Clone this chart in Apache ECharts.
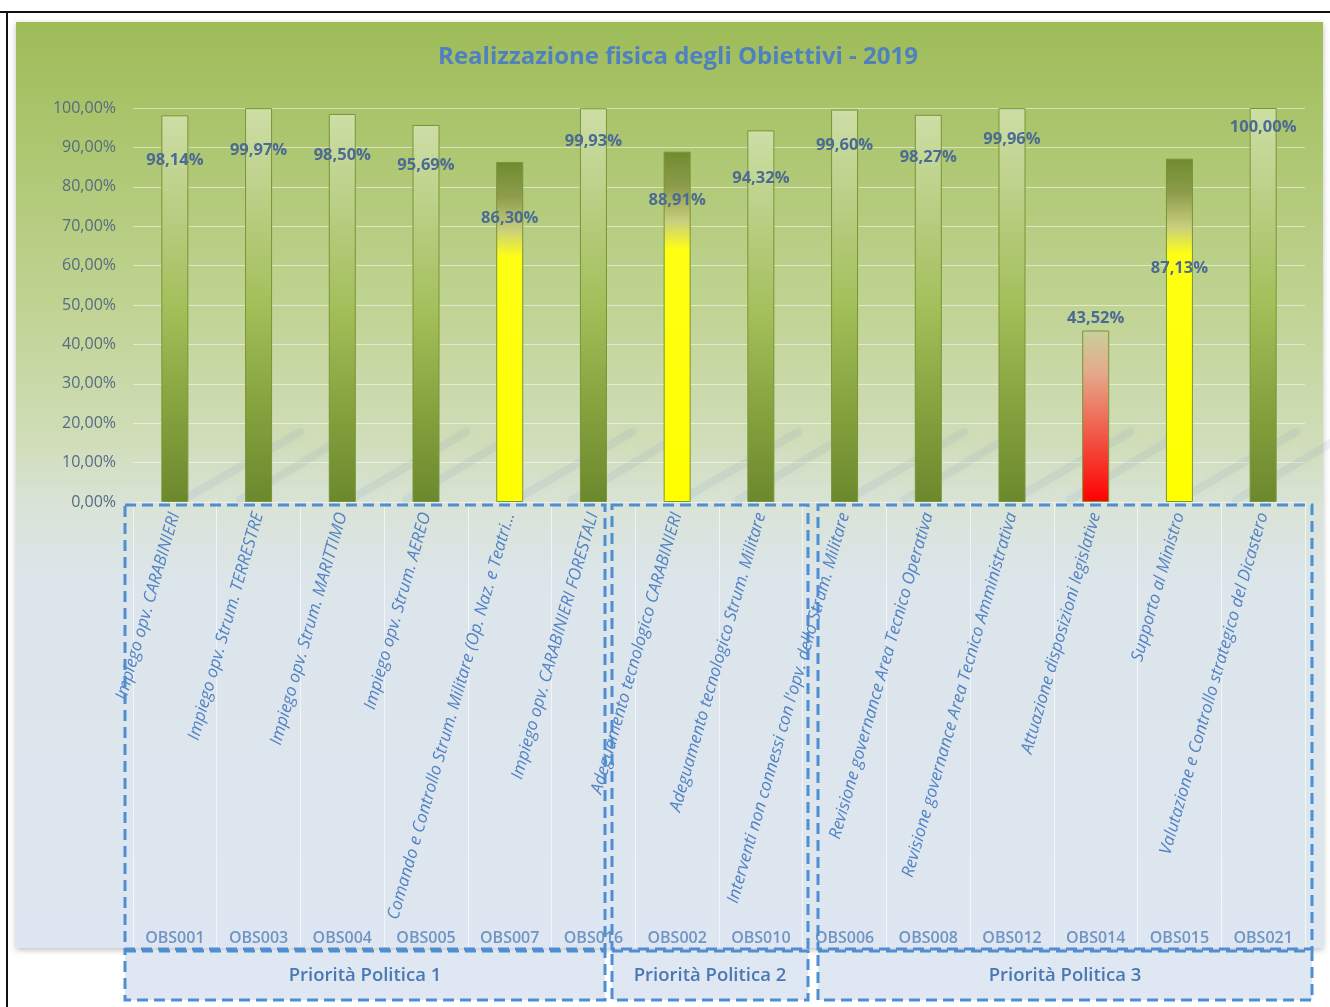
<!DOCTYPE html>
<html>
<head>
<meta charset="utf-8">
<title>Realizzazione fisica degli Obiettivi - 2019</title>
<script src="https://cdn.jsdelivr.net/npm/echarts@6/dist/echarts.min.js"></script>
<style>
  html, body { margin: 0; padding: 0; background: #ffffff; }
  #chart { width: 1330px; height: 1007px; }
</style>
</head>
<body>
<div id="chart"></div>
<script>
// ---- data ----
const codes = ['OBS001', 'OBS003', 'OBS004', 'OBS005', 'OBS007', 'OBS016',
               'OBS002', 'OBS010',
               'OBS006', 'OBS008', 'OBS012', 'OBS014', 'OBS015', 'OBS021'];

const names = [
  'Impiego opv. CARABINIERI',
  'Impiego opv. Strum. TERRESTRE',
  'Impiego opv. Strum. MARITTIMO',
  'Impiego opv. Strum. AEREO',
  'Comando e Controllo Strum. Militare (Op. Naz. e Teatri...',
  'Impiego opv. CARABINIERI FORESTALI',
  'Adeguamento tecnologico CARABINIERI',
  'Adeguamento tecnologico Strum. Militare',
  "Interventi non connessi con l'opv. dello Strum. Militare",
  'Revisione governance Area Tecnico Operativa',
  'Revisione governance Area Tecnico Amministrativa',
  'Attuazione disposizioni legislative',
  'Supporto al Ministro',
  'Valutazione e Controllo strategico del Dicastero'
];

const values = [98.14, 99.97, 98.50, 95.69, 86.30, 99.93,
                88.91, 94.32,
                99.60, 98.27, 99.96, 43.52, 87.13, 100.00];

const groupNames = ['Priorità Politica 1', 'Priorità Politica 2', 'Priorità Politica 3'];
const groupSizes = [6, 2, 6];

// ---- styling ----
const FONT = '"Open Sans", "Noto Sans", sans-serif';
const fmtPct = v => Number(v).toFixed(2).replace('.', ',') + '%';

// vertical nudge of each value label, measured from the top of its bar
const labelNudge = [45, 42, 41, 40, 56, 33, 49, 48, 36, 42, 31, -12, 110, 19];

// frame of the dashed boxes around each priority group (pixels)
const boxSpans = [[125, 605], [612, 808], [818, 1312]];
const boxTop = 505, boxMid = 949, boxBottom = 1000;

const vGrad = stops => ({
  type: 'linear', x: 0, y: 0, x2: 0, y2: 1,
  colorStops: stops.map(([offset, color]) => ({ offset, color }))
});

const greenFill = vGrad([[0, '#cddea6'], [0.3, '#b4cb7b'], [0.5, '#a3bf5a'], [0.75, '#87a33f'], [1, '#6b882d']]);
const yellowFill = vGrad([[0, '#6f8b2e'], [0.1, '#8d9c4c'], [0.2, '#c9cf7e'], [0.28, '#ffff14'], [1, '#ffff00']]);
const redFill = vGrad([[0, '#c8d09c'], [0.25, '#e4a98a'], [0.55, '#ef6552'], [1, '#ff0000']]);

function fillFor(v) {
  if (v >= 90) return greenFill;
  if (v >= 50) return yellowFill;
  return redFill;
}

const barData = values.map((v, i) => ({
  value: v,
  itemStyle: { color: fillFor(v) },
  label: { offset: [0, labelNudge[i]] }
}));

// faint diagonal streaks on the lower part of the plot background
const streaks = [];
for (let k = 0; k < 7; k++) {
  const x0 = 190 + k * 166;
  [[0, 496, 110, 432], [50, 500, 150, 440]].forEach(([a, b, c, d]) => {
    streaks.push({
      type: 'line', z: 1, silent: true,
      shape: { x1: x0 + a, y1: b, x2: x0 + c, y2: d },
      style: { stroke: 'rgba(120,150,195,0.11)', lineWidth: 8, lineCap: 'round',
               shadowBlur: 10, shadowColor: 'rgba(120,150,195,0.3)' }
    });
  });
}

const boxStyle = { stroke: '#4f8ed2', lineWidth: 3, lineDash: [11, 6] };
const boxes = [];
boxSpans.forEach(([x1, x2], g) => {
  boxes.push({
    type: 'rect', z: 20, silent: true,
    shape: { x: x1, y: boxTop, width: x2 - x1, height: boxMid - boxTop },
    style: Object.assign({ fill: 'transparent' }, boxStyle)
  });
  boxes.push({
    type: 'rect', z: 20, silent: true,
    shape: { x: x1, y: boxMid + 2, width: x2 - x1, height: boxBottom - boxMid - 2 },
    style: Object.assign({ fill: '#dfe8f2' }, boxStyle)
  });
  boxes.push({
    type: 'text', z: 21, silent: true,
    x: (x1 + x2) / 2, y: (boxMid + 2 + boxBottom) / 2,
    style: { text: groupNames[g], fill: '#4a78b4', font: '600 18.5px ' + FONT,
             align: 'center', verticalAlign: 'middle' }
  });
});

const chart = echarts.init(document.getElementById('chart'), null, { renderer: 'canvas' });

chart.setOption({
  backgroundColor: '#ffffff',
  animation: false,
  title: {
    text: 'Realizzazione fisica degli Obiettivi - 2019',
    left: 673, top: 40, textAlign: 'center',
    textStyle: { color: '#4f80bf', fontSize: 24, fontWeight: 'bold', fontFamily: FONT }
  },
  grid: { left: 133, right: 25, top: 108, bottom: 505 },
  xAxis: [{
    type: 'category',
    data: names,
    axisLine: { show: false },
    axisTick: { show: true, alignWithLabel: false, length: 445,
                lineStyle: { color: 'rgba(255,255,255,0.6)', width: 1 } },
    axisLabel: { interval: 0, rotate: 74, margin: 11, color: '#5282c4',
                 fontSize: 17, fontStyle: 'italic', fontFamily: FONT }
  }, {
    type: 'category',
    data: codes,
    position: 'bottom',
    offset: 420,
    axisLine: { show: false },
    axisTick: { show: false },
    axisLabel: { interval: 0, color: '#7094c4', fontSize: 16, fontWeight: 600, fontFamily: FONT }
  }],
  yAxis: {
    type: 'value',
    min: 0, max: 100, interval: 10,
    axisLine: { show: false },
    axisTick: { show: false },
    axisLabel: { formatter: fmtPct, color: '#566b82', fontSize: 16, margin: 17, fontFamily: FONT },
    splitLine: { lineStyle: { color: 'rgba(255,255,255,0.5)', width: 1 } }
  },
  series: [{
    type: 'bar',
    xAxisIndex: 0,
    barWidth: 27,
    data: barData,
    itemStyle: { borderColor: '#7a9535', borderWidth: 1 },
    label: {
      show: true,
      position: ['50%', 0],
      align: 'center',
      verticalAlign: 'middle',
      formatter: p => fmtPct(p.value),
      color: '#4c6b94',
      fontSize: 16.5,
      fontWeight: 'bold',
      fontFamily: FONT
    }
  }],
  graphic: { elements: [
    // chart panel with gradient
    { type: 'rect', z: -10, silent: true,
      shape: { x: 16, y: 22, width: 1307, height: 926 },
      style: { fill: vGrad([[0, '#9ebb58'], [0.1, '#a9c46a'], [0.3, '#bfd391'], [0.45, '#d0ddb8'],
                            [0.52, '#d9e3d6'], [0.6, '#dce5ea'], [1, '#dee7f1']]),
               shadowBlur: 6, shadowColor: 'rgba(0,0,0,0.25)', shadowOffsetY: 2 } },
    // outer frame
    { type: 'line', z: 30, silent: true, shape: { x1: 0, y1: 12, x2: 1330, y2: 12 },
      style: { stroke: '#111', lineWidth: 2 } },
    { type: 'line', z: 30, silent: true, shape: { x1: 7, y1: 12, x2: 7, y2: 1007 },
      style: { stroke: '#111', lineWidth: 2 } }
  ].concat(streaks, boxes) }
});
</script>
</body>
</html>
